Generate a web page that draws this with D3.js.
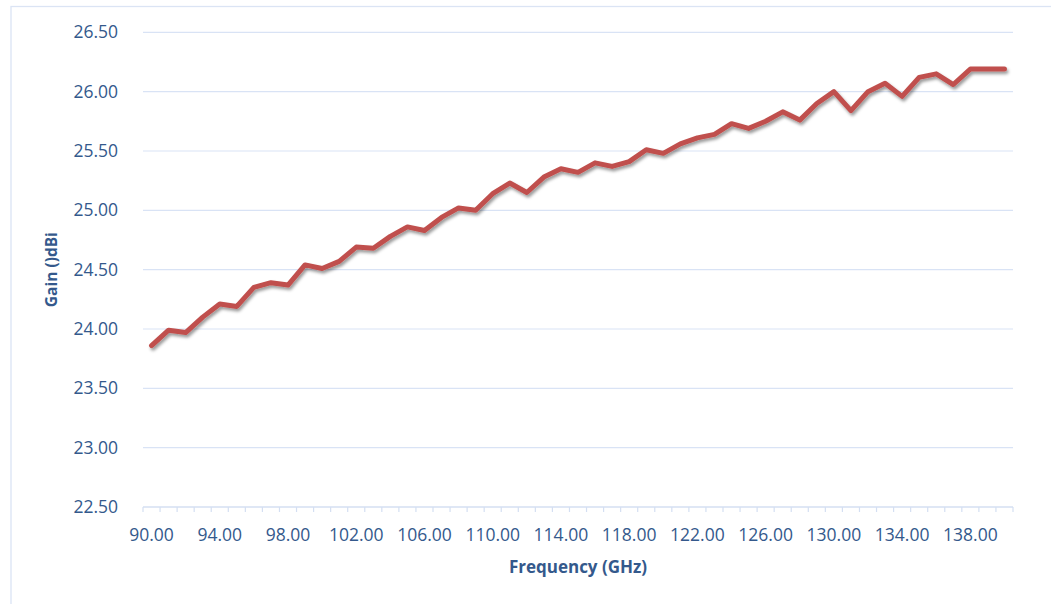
<!doctype html>
<html>
<head>
<meta charset="utf-8">
<script src="https://cdn.jsdelivr.net/npm/d3@7/dist/d3.min.js"></script>
<style>
  body { margin: 0; background: #fff; }
  text { font-family: "Open Sans", "Noto Sans", sans-serif; fill: #34598c; }
</style>
</head>
<body>
<svg id="chart" width="1051" height="604"></svg>
<script>
// frequency points, 1 GHz apart
var freqs = d3.range(90, 141, 1);
var gain = [
  23.86, 23.99, 23.97, 24.10, 24.21, 24.19, 24.35, 24.39, 24.37, 24.54,
  24.51, 24.57, 24.69, 24.68, 24.78, 24.86, 24.83, 24.94, 25.02, 25.00,
  25.14, 25.23, 25.15, 25.28, 25.35, 25.32, 25.40, 25.37, 25.41, 25.51,
  25.48, 25.56, 25.61, 25.64, 25.73, 25.69, 25.75, 25.83, 25.76, 25.90,
  26.00, 25.84, 26.00, 26.07, 25.96, 26.12, 26.15, 26.06, 26.19, 26.19,
  26.19
];
var yTicks = [22.5, 23.0, 23.5, 24.0, 24.5, 25.0, 25.5, 26.0, 26.5];
var xLabelEvery = 4;

var svg = d3.select("#chart");
var plotL = 143, plotR = 1013, plotT = 32.3, plotB = 507;

// outer chart frame
svg.append("rect")
   .attr("x", 11).attr("y", 6.5)
   .attr("width", 1060).attr("height", 620)
   .attr("fill", "none")
   .attr("stroke", "#dbe4f4")
   .attr("stroke-width", 1.3);

var x = d3.scaleBand().domain(freqs).range([plotL, plotR]);
var y = d3.scaleLinear().domain([22.5, 26.5]).range([plotB, plotT]);

// gridlines
svg.append("g").selectAll("line")
   .data(yTicks.slice(1))
   .enter().append("line")
   .attr("x1", plotL).attr("x2", plotR)
   .attr("y1", function(d) { return y(d); })
   .attr("y2", function(d) { return y(d); })
   .attr("stroke", "#d9e3f5")
   .attr("stroke-width", 1.2);

// y tick labels
svg.append("g").selectAll("text")
   .data(yTicks)
   .enter().append("text")
   .attr("x", 118)
   .attr("y", function(d) { return y(d); })
   .attr("dy", "0.35em")
   .attr("text-anchor", "end")
   .attr("font-size", "17.5px")
   .text(function(d) { return d.toFixed(2); });

// x axis line + ticks between categories
var xa = svg.append("g");
xa.append("line")
  .attr("x1", plotL).attr("x2", plotR)
  .attr("y1", plotB).attr("y2", plotB)
  .attr("stroke", "#d4dff2").attr("stroke-width", 1.3);
xa.selectAll(".tk")
  .data(d3.range(freqs.length + 1))
  .enter().append("line")
  .attr("class", "tk")
  .attr("x1", function(i) { return plotL + i * x.step(); })
  .attr("x2", function(i) { return plotL + i * x.step(); })
  .attr("y1", plotB).attr("y2", plotB + 5)
  .attr("stroke", "#d4dff2").attr("stroke-width", 1.2);
xa.selectAll("text")
  .data(freqs.filter(function(d, i) { return i % xLabelEvery === 0; }))
  .enter().append("text")
  .attr("x", function(d) { return x(d) + x.bandwidth() / 2; })
  .attr("y", 541)
  .attr("text-anchor", "middle")
  .attr("font-size", "17.5px")
  .text(function(d) { return d.toFixed(2); });

// axis titles
svg.append("text")
   .attr("x", (plotL + plotR) / 2)
   .attr("y", 573)
   .attr("text-anchor", "middle")
   .attr("font-size", "17px")
   .attr("font-weight", "bold")
   .text("Frequency (GHz)");

svg.append("text")
   .attr("transform", "translate(57," + ((plotT + plotB) / 2) + ") rotate(-90)")
   .attr("text-anchor", "middle")
   .attr("font-size", "15.5px")
   .attr("font-weight", "bold")
   .text("Gain ()dBi");

// shadow for the line
var defs = svg.append("defs");
var f = defs.append("filter").attr("id", "shadow")
  .attr("x", "-5%").attr("y", "-20%").attr("width", "110%").attr("height", "140%");
f.append("feDropShadow")
  .attr("dx", 1.5).attr("dy", 2.5).attr("stdDeviation", 1.8)
  .attr("flood-color", "#000").attr("flood-opacity", 0.4);

var line = d3.line()
  .x(function(d, i) { return x(freqs[i]) + x.bandwidth() / 2; })
  .y(function(d) { return y(d); });

svg.append("path")
   .datum(gain)
   .attr("d", line)
   .attr("fill", "none")
   .attr("stroke", "#c0504d")
   .attr("stroke-width", 5)
   .attr("stroke-linejoin", "round")
   .attr("stroke-linecap", "round")
   .attr("filter", "url(#shadow)");
</script>
</body>
</html>
